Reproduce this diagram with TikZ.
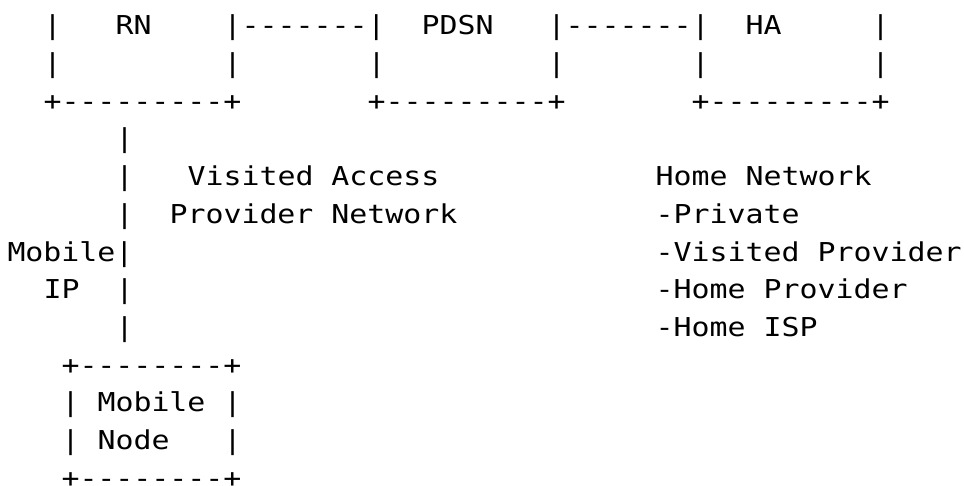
\documentclass[tikz,border=0pt]{standalone}
\usepackage{fontspec}
\setmonofont[FakeStretch=1.15]{DejaVu Sans Mono}
\tikzset{
  asc/.style={anchor=base west, inner sep=0pt, outer sep=0pt,
    font=\ttfamily\fontsize{26}{30}\selectfont, text=black}
}
% \T{name}{column}{row}{text}
\newcommand{\T}[4]{\node[asc] (#1) at ({7.5+18*(#2)},{485-34.9-37.7*((#3)-1)}) {#4};}
\begin{document}
\begin{tikzpicture}[x=1pt,y=1pt]
\useasboundingbox (0,0) rectangle (964,485);
% row 1
\T{a1}{2}{1}{|}
\T{rn}{6}{1}{RN}
\T{a2}{12}{1}{|-------|}
\T{pdsn}{23}{1}{PDSN}
\T{a3}{30}{1}{|-------|}
\T{ha}{41}{1}{HA}
\T{a4}{48}{1}{|}
% row 2
\T{b1}{2}{2}{|}
\T{b2}{12}{2}{|}
\T{b3}{20}{2}{|}
\T{b4}{30}{2}{|}
\T{b5}{38}{2}{|}
\T{b6}{48}{2}{|}
% row 3
\T{c1}{2}{3}{+---------+}
\T{c2}{20}{3}{+---------+}
\T{c3}{38}{3}{+---------+}
% row 4
\T{d1}{6}{4}{|}
% row 5
\T{e1}{6}{5}{|}
\T{vis}{10}{5}{Visited Access}
\T{home}{36}{5}{Home Network}
% row 6
\T{f1}{6}{6}{|}
\T{prov}{9}{6}{Provider Network}
\T{priv}{36}{6}{-Private}
% row 7
\T{mob}{0}{7}{Mobile|}
\T{visp}{36}{7}{-Visited Provider}
% row 8
\T{ip}{2}{8}{IP}
\T{h1}{6}{8}{|}
\T{homep}{36}{8}{-Home Provider}
% row 9
\T{i1}{6}{9}{|}
\T{isp}{36}{9}{-Home ISP}
% row 10
\T{j1}{3}{10}{+--------+}
% row 11
\T{k1}{3}{11}{|}
\T{mn}{5}{11}{Mobile}
\T{k2}{12}{11}{|}
% row 12
\T{l1}{3}{12}{|}
\T{nd}{5}{12}{Node}
\T{l2}{12}{12}{|}
% row 13
\T{m1}{3}{13}{+--------+}
\end{tikzpicture}
\end{document}
